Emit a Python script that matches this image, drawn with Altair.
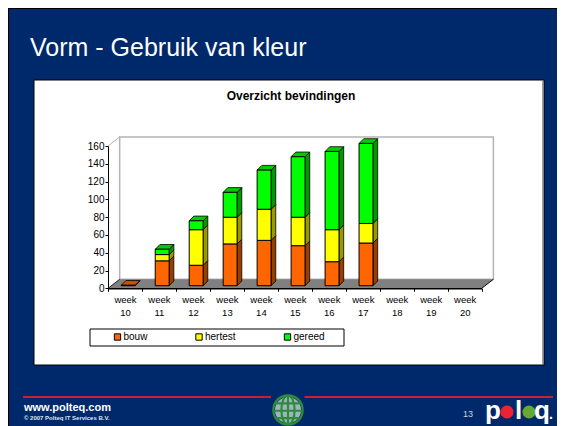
import altair as alt
import pandas as pd

WEEKS = [10, 11, 12, 13, 14, 15, 16, 17, 18, 19, 20]
BOUW = [0.5, 28, 23, 47, 51, 45, 27, 48, 0, 0, 0]
HERTEST = [0, 7, 40, 30, 35, 32, 36, 22, 0, 0, 0]
GEREED = [0, 6, 10, 28, 44, 68, 88, 90, 0, 0, 0]
SERIES = ["bouw", "hertest", "gereed"]
FRONT = ["#FF6600", "#FFFF00", "#00FF00"]
SIDE = ["#993D00", "#999900", "#009900"]
TOP = ["#CC5200", "#CCCC00", "#00CC00"]
NAVY = "#00296B"
W, H = 549, 418

# depth of the pseudo-3D box, in axis units
WALL_DX, WALL_DY = 0.344, 10.1
BAR_L, BAR_R = -0.11, 0.30
BAR_DX, BAR_DY = 0.138, 5.3
BASE = 2.9

xs = alt.Scale(domain=[9.5, 20.5], range=[100, 473.7], nice=False, zero=False)
ys = alt.Scale(domain=[0, 160], range=[280.3, 138], nice=False, zero=False)
x_axis = alt.Axis(
    title=None, orient="bottom", offset=-(H - 280.3), zindex=1, grid=False,
    values=[v / 2 for v in range(19, 42)], labelExpr="datum.value % 1 === 0 ? ['week', datum.value] : ''",
    labelFont="Liberation Sans", labelFontSize=9.5, labelColor="black", labelLineHeight=13,
    labelOverlap=False, labelFlush=False, labelBound=False, labelPadding=3, labelAngle=0,
    tickColor="black", tickSize=3, domainColor="black", domainWidth=1.5,
    tickOpacity=alt.expr("datum.value % 1 === 0 ? 0 : 1"))
y_axis = alt.Axis(
    title=None, orient="left", offset=-100, zindex=1, grid=False, values=list(range(0, 161, 20)),
    labelFont="Liberation Sans", labelFontSize=10, labelColor="black", labelPadding=1,
    labelFlush=False, labelBound=False, tickColor="black", tickSize=3, domainColor="black", domainWidth=1)
X = alt.X("x:Q", scale=xs, axis=x_axis)
Y = alt.Y("y:Q", scale=ys, axis=y_axis)
Y2 = alt.Y2("y2:Q")

one = pd.DataFrame({"a": [0]})


def txt(s, x, y, size, color="black", weight="normal", align="left", font="Liberation Sans"):
    return alt.Chart(one).mark_text(text=s, fontSize=size, color=color, fontWeight=weight,
                                    align=align, baseline="alphabetic", font=font).encode(
        x=alt.value(x), y=alt.value(y))


def box(x, x2, y, y2, **kw):
    return alt.Chart(one).mark_rect(**kw).encode(
        x=alt.value(x), x2=alt.value(x2), y=alt.value(y), y2=alt.value(y2))


def hline(x, x2, y, color, width):
    return alt.Chart(one).mark_rule(color=color, strokeWidth=width).encode(
        x=alt.value(x), x2=alt.value(x2), y=alt.value(y))


def vline(x, y, y2, color, width):
    return alt.Chart(one).mark_rule(color=color, strokeWidth=width).encode(
        x=alt.value(x), y=alt.value(y), y2=alt.value(y2))


def dot(x, y, size, color, **kw):
    return alt.Chart(one).mark_point(filled=True, color=color, opacity=1, **kw).encode(
        x=alt.value(x), y=alt.value(y), size=alt.value(size))


# bar faces
front_rows, face_rows = [], []
for i, w in enumerate(WEEKS):
    low = BASE
    vals = [BOUW[i], HERTEST[i], GEREED[i]]
    x0, x1 = w + BAR_L, w + BAR_R
    for s, v in enumerate(vals):
        if v <= 0:
            continue
        hi = low + v
        front_rows.append(dict(x=x0, x2=x1, y=low, y2=hi, serie=SERIES[s]))
        face = f"side{s}"
        fid = f"{w}-{s}-side"
        face_rows += [dict(id=fid, face=face, x=x1, y=low, y2=hi),
                      dict(id=fid, face=face, x=x1 + BAR_DX, y=low + BAR_DY, y2=hi + BAR_DY)]
        low = hi
        top_s = s
    if sum(vals) > 0:
        fid = f"{w}-top"
        face = f"top{top_s}"
        face_rows += [dict(id=fid, face=face, x=x0, y=low, y2=low),
                      dict(id=fid, face=face, x=x0 + BAR_DX, y=low, y2=low + BAR_DY),
                      dict(id=fid, face=face, x=x1, y=low, y2=low + BAR_DY),
                      dict(id=fid, face=face, x=x1 + BAR_DX, y=low + BAR_DY, y2=low + BAR_DY)]
front_df = pd.DataFrame(front_rows)
face_df = pd.DataFrame(face_rows)

# room
wall = alt.Chart(pd.DataFrame([dict(x=9.5 + WALL_DX, x2=20.5 + WALL_DX, y=WALL_DY, y2=160 + WALL_DY)])).mark_rect(
    fill="white", stroke="#b4b4b4", strokeWidth=1.5).encode(x=X, x2="x2:Q", y=Y, y2=Y2)

floor_df = pd.DataFrame([
    dict(x=9.5, y=0, y2=0), dict(x=9.5 + WALL_DX, y=0, y2=WALL_DY),
    dict(x=20.5, y=0, y2=WALL_DY), dict(x=20.5 + WALL_DX, y=WALL_DY, y2=WALL_DY)])
floor = alt.Chart(floor_df).mark_area(color="#808080").encode(x=X, y=Y, y2=Y2)

left_edge = alt.Chart(pd.DataFrame(dict(x=[9.5, 9.5 + WALL_DX], y=[160, 160 + WALL_DY]))).mark_line(
    color="#b4b4b4", strokeWidth=1).encode(x=X, y=Y)
floor_left = alt.Chart(pd.DataFrame(dict(x=[9.5, 9.5 + WALL_DX], y=[0, WALL_DY]))).mark_line(
    color="#222222", strokeWidth=1).encode(x=X, y=Y)
floor_right = alt.Chart(pd.DataFrame(dict(x=[20.5, 20.5 + WALL_DX], y=[0, WALL_DY]))).mark_line(
    color="black", strokeWidth=1).encode(x=X, y=Y)

faces = alt.Chart(face_df).mark_area(stroke="black", strokeWidth=0.8).encode(
    x=X, y=Y, y2=Y2, detail="id:N",
    fill=alt.Fill("face:N", legend=None, scale=alt.Scale(
        domain=["side0", "side1", "side2", "top0", "top1", "top2"], range=SIDE + TOP)))

fronts = alt.Chart(front_df).mark_rect(stroke="black", strokeWidth=1).encode(
    x=X, x2="x2:Q", y=Y, y2=Y2,
    color=alt.Color("serie:N", scale=alt.Scale(domain=SERIES, range=FRONT), legend=alt.Legend(
        title=None, orient="none", legendX=104.5, legendY=324, direction="horizontal",
        symbolType="square", symbolSize=40, symbolStrokeColor="black", symbolStrokeWidth=1,
        symbolOpacity=1, columnPadding=45.5, labelOffset=1, gridAlign="none",
        labelFont="Liberation Sans", labelFontSize=10, labelColor="black", padding=0)))

GLOBE = ("M-1,0 A1,1 0 1,1 1,0 A1,1 0 1,1 -1,0 Z "
         "M0,-1 A0.45,1 0 1,1 0,1 A0.45,1 0 1,1 0,-1 Z "
         "M-0.9,-0.45 L0.9,-0.45 M-1,0.05 L1,0.05 M-0.85,0.55 L0.85,0.55 M0,-1 L0,1")
globe_bg = dot(280, 402, 680, "#9fb4bb", shape="circle")
globe = alt.Chart(one).mark_point(filled=False, color="#2E8B3C", opacity=1, strokeWidth=2.2, shape=GLOBE).encode(
    x=alt.value(280), y=alt.value(402), size=alt.value(860))

chart = alt.layer(
    hline(0, W, 0, "black", 2),
    vline(0, 0, H, "black", 2),
    box(26, 536, 72, 357, fill="white", stroke="black", strokeWidth=1),
    vline(535, 73, 356, "#808080", 1.5),
    txt("Vorm - Gebruik van kleur", 22, 48, 25, color="white"),
    txt("Overzicht bevindingen", 283, 92, 12, weight="bold", align="center"),
    wall, floor, left_edge, floor_left, floor_right, faces,
    box(82, 336, 321, 338, fill="white", stroke="black", strokeWidth=1),
    fronts,
    hline(15, 263, 389, "#C8202C", 2),
    hline(296.5, 545, 389, "#C8202C", 2),
    txt("www.polteq.com", 16, 403, 11, color="white", weight="bold"),
    txt("© 2007 Polteq IT Services B.V.", 16, 412, 6, color="#dfe5ee", weight="bold"),
    globe_bg, globe,
    txt("13", 455, 409, 9, color="#c8d2e2"),
    txt("p", 477, 411, 26, color="white", weight="bold"),
    dot(499, 404, 170, "#EE2233", shape="circle"),
    txt("l", 507, 411, 26, color="white", weight="bold"),
    dot(521, 404, 170, "#66AA33", shape="circle"),
    txt("q", 526, 411, 26, color="white", weight="bold"),
    txt(".", 541, 411, 14, color="white", weight="bold"),
).resolve_scale(color="independent", fill="independent").properties(
    width=W, height=H, background=NAVY, padding=0,
    autosize=alt.AutoSizeParams(type="none", contains="content"),
).configure_view(stroke=None)

chart.save("out.html", embed_options={"renderer": "svg", "actions": False})
